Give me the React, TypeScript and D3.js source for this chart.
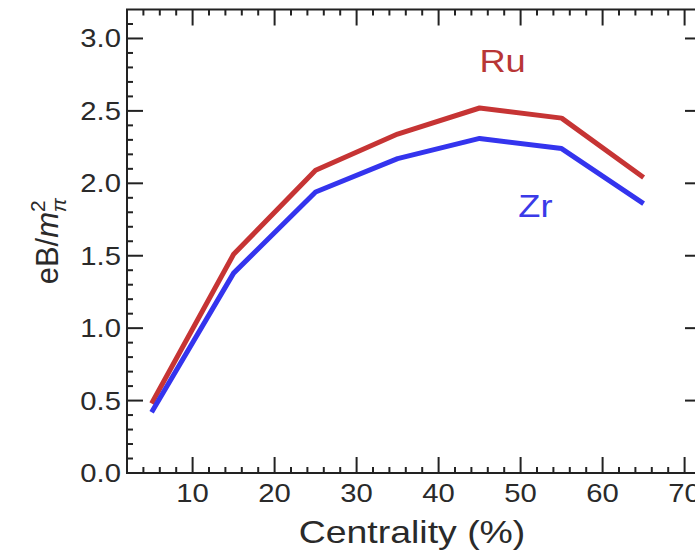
import React, { useEffect, useRef } from 'react';
import * as d3 from 'd3';

// centrality bins (%)
const centrality = [5, 15, 25, 35, 45, 55, 65];
// eB / m_pi^2
const ruValues = [0.48, 1.51, 2.09, 2.34, 2.52, 2.45, 2.04];
const zrValues = [0.42, 1.38, 1.94, 2.17, 2.31, 2.24, 1.86];

const xTicks = [10, 20, 30, 40, 50, 60, 70];
const yTicks = [0, 0.5, 1.0, 1.5, 2.0, 2.5, 3.0];

const series = [
    { name: 'Ru', values: ruValues, color: '#c63434', text: '#b83636', lx: 47.8, ly: 2.77 },
    { name: 'Zr', values: zrValues, color: '#3434ee', text: '#3a3ae8', lx: 51.8, ly: 1.77 },
];

const W = 695;
const H = 556;
const FONT = '"Liberation Sans", Arial, sans-serif';
const SX = 1.17; // 原图文字横向略宽

const App = () => {
    const svgRef = useRef<SVGSVGElement>(null);

    useEffect(() => {
        const svg = d3.select(svgRef.current);
        svg.selectAll('*').remove();

        const x = d3.scaleLinear().domain([2, 72]).range([127, 701]);
        const y = d3.scaleLinear().domain([0, 3.2]).range([473, 9.5]);

        const [x0, x1] = x.range();
        const [y0, y1] = y.range();

        const label = (px: number, py: number, txt: string, size: number, anchor: string, fill = '#2a2a2a', dy = '0') =>
            svg.append('text')
                .attr('transform', `translate(${px},${py}) scale(${SX},1)`)
                .attr('dy', dy)
                .attr('text-anchor', anchor)
                .attr('font-family', FONT)
                .attr('font-size', size)
                .attr('fill', fill)
                .text(txt);

        // 曲线
        const line = d3
            .line<number>()
            .x((_, i) => x(centrality[i]))
            .y(d => y(d));

        series.forEach(s => {
            svg.append('path')
                .datum(s.values)
                .attr('d', line)
                .attr('fill', 'none')
                .attr('stroke', s.color)
                .attr('stroke-width', 5)
                .attr('stroke-linejoin', 'round');

            label(x(s.lx), y(s.ly), s.name, 31, 'middle', s.text);
        });

        // 边框
        svg.append('rect')
            .attr('x', x0)
            .attr('y', y1)
            .attr('width', x1 - x0)
            .attr('height', y0 - y1)
            .attr('fill', 'none')
            .attr('stroke', '#222')
            .attr('stroke-width', 2);

        const tickG = svg.append('g').attr('stroke', '#222').attr('stroke-width', 2);

        // x 方向刻度 (上下)
        const xMinor = d3.range(4, 72, 2).filter(v => v % 10 !== 0);
        const drawX = (vals: number[], len: number) => {
            vals.forEach(v => {
                tickG.append('line').attr('x1', x(v)).attr('x2', x(v)).attr('y1', y0).attr('y2', y0 - len);
                tickG.append('line').attr('x1', x(v)).attr('x2', x(v)).attr('y1', y1).attr('y2', y1 + len);
            });
        };
        drawX(xTicks, 16);
        drawX(xMinor, 6);

        // y 方向刻度 (左右)
        const yMinor = d3.range(1, 32).map(v => v / 10).filter(v => Math.round(v * 10) % 5 !== 0);
        const drawY = (vals: number[], len: number) => {
            vals.forEach(v => {
                tickG.append('line').attr('y1', y(v)).attr('y2', y(v)).attr('x1', x0).attr('x2', x0 + len);
                tickG.append('line').attr('y1', y(v)).attr('y2', y(v)).attr('x1', x1).attr('x2', x1 - len);
            });
        };
        drawY(yTicks, 16);
        drawY(yMinor, 6);

        // 刻度标签
        xTicks.forEach(d => label(x(d), 502, String(d), 25, 'middle'));
        yTicks.forEach(d => label(x0 - 6, y(d), d3.format('.1f')(d), 25, 'end', '#2a2a2a', '0.36em'));

        // 坐标轴标题
        label((x0 + x1) / 2 - 2, 543, 'Centrality (%)', 32, 'middle');

        const yt = svg.append('text')
            .attr('transform', `translate(58, ${(y0 + y1) / 2}) rotate(-90)`)
            .attr('text-anchor', 'middle')
            .attr('font-family', FONT)
            .attr('font-size', 31)
            .attr('fill', '#2a2a2a');
        yt.append('tspan').text('eB/');
        yt.append('tspan').attr('font-style', 'italic').text('m');
        yt.append('tspan').attr('font-size', 21).attr('dy', -13).text('2');
        yt.append('tspan').attr('font-size', 21).attr('font-style', 'italic').attr('dx', -12).attr('dy', 21).text('π');
    }, []);

    return (
        <svg
            ref={svgRef}
            width={W}
            height={H}
            style={{ position: 'absolute', left: 0, top: 0, background: '#fff' }}
        />
    );
};

export default App;
